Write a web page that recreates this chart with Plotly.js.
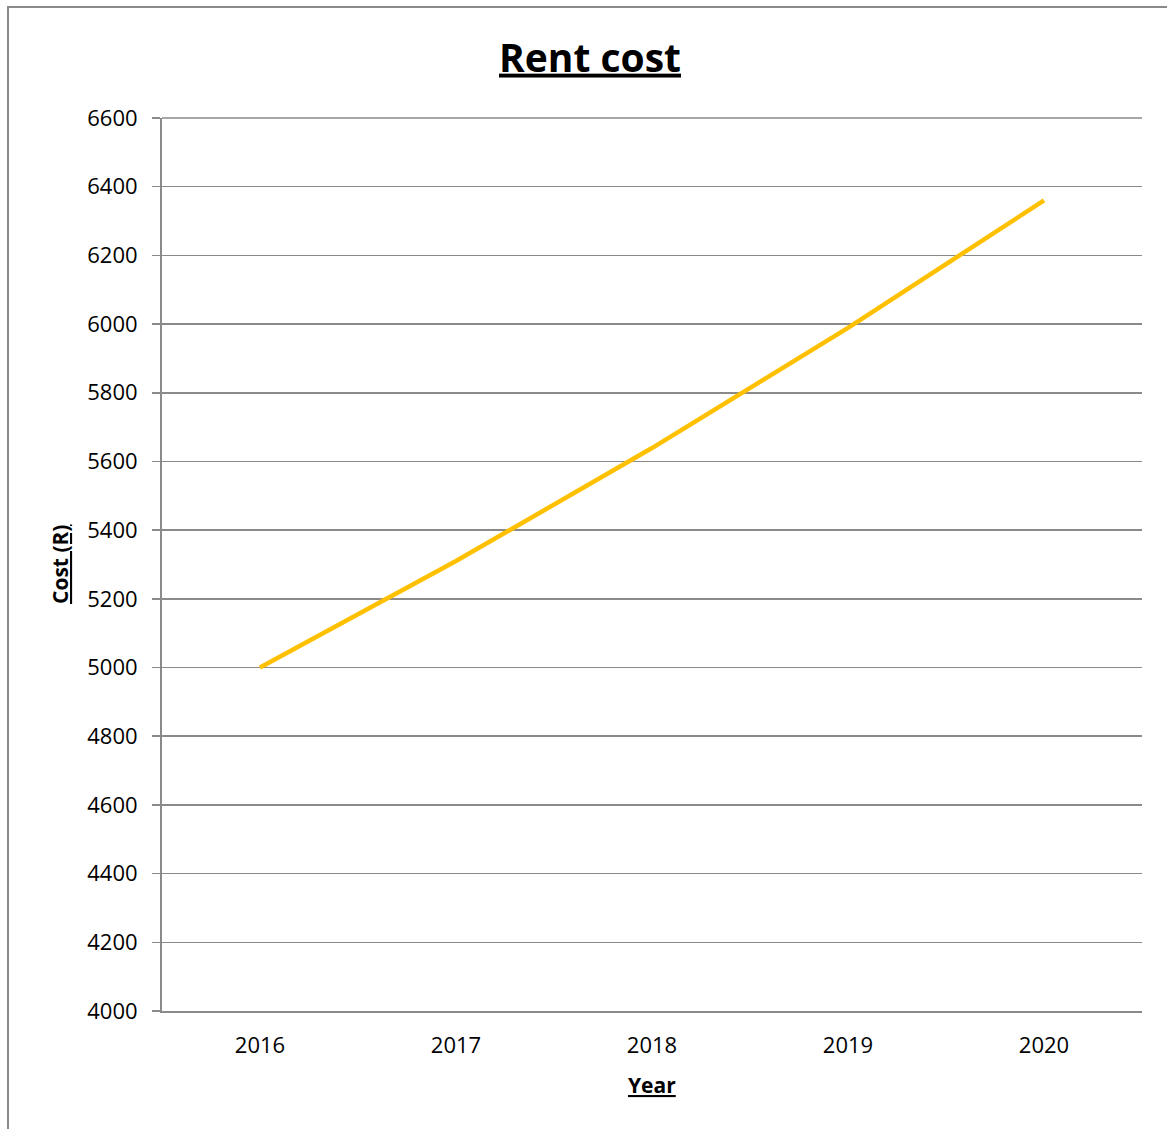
<!DOCTYPE html>
<html>
<head>
<meta charset="utf-8">
<script src="https://cdn.plot.ly/plotly-3.0.1.min.js"></script>
<style>
  html, body { margin: 0; padding: 0; background: #fff; }
  #chart { width: 1167px; height: 1129px; }
</style>
</head>
<body>
<div id="chart"></div>
<script>
const years = ["2016", "2017", "2018", "2019", "2020"];
const rentCost = [5000, 5310, 5639, 5989, 6360];
const yTicks = [4000, 4200, 4400, 4600, 4800, 5000, 5200, 5400, 5600, 5800, 6000, 6200, 6400, 6600];

const fontFam = "'Open Sans', 'Noto Sans', sans-serif";
const gray = "#8a8a8a";

const trace = {
  x: years,
  y: rentCost,
  type: "scatter",
  mode: "lines",
  line: { color: "#FFC000", width: 4.5 },
  hoverinfo: "skip",
  showlegend: false
};

const L = 162, R = 1167 - 1142, T = 118, B = 1129 - 1011;
const pw = 1142 - 162, ph = 1011 - 118;
const px = v => (v - L) / pw;
const py = v => (1011 - v) / ph;

const layout = {
  width: 1167,
  height: 1129,
  margin: { l: L, r: R, t: T, b: B, pad: 0 },
  paper_bgcolor: "#ffffff",
  plot_bgcolor: "#ffffff",
  font: { family: fontFam, color: "#000", size: 22 },
  title: {
    text: "<b>Rent cost</b>",
    font: { family: fontFam, size: 39, color: "#000", lineposition: "under" },
    xref: "container", x: 590 / 1167, xanchor: "center",
    yref: "container", y: 1 - 58 / 1129, yanchor: "middle"
  },
  xaxis: {
    type: "category",
    range: [-0.5, 4.5],
    showgrid: false,
    showline: true,
    linecolor: gray,
    linewidth: 2,
    ticks: "",
    ticklabelstandoff: 14,
    tickfont: { family: fontFam, size: 22, color: "#000" },
    fixedrange: true,
    zeroline: false
  },
  yaxis: {
    range: [4000, 6600],
    tickvals: yTicks,
    ticktext: yTicks.map(String),
    showgrid: true,
    gridcolor: gray,
    gridwidth: 1.6,
    showline: true,
    linecolor: gray,
    linewidth: 2,
    ticks: "outside",
    ticklen: 8,
    tickwidth: 1.6,
    tickcolor: gray,
    ticklabelstandoff: 10,
    tickfont: { family: fontFam, size: 22, color: "#000" },
    zeroline: false,
    fixedrange: true
  },
  annotations: [
    {
      text: "<b>Year</b>",
      xref: "paper", yref: "paper",
      x: px(652), y: py(1085),
      xanchor: "center", yanchor: "middle",
      showarrow: false,
      font: { family: fontFam, size: 21, color: "#000", lineposition: "under" }
    },
    {
      text: "<b>Cost (R)</b>",
      xref: "paper", yref: "paper",
      x: px(60), y: py(564),
      xanchor: "center", yanchor: "middle",
      textangle: -90,
      showarrow: false,
      font: { family: fontFam, size: 21, color: "#000", lineposition: "under" }
    }
  ],
  shapes: [
    {
      type: "rect",
      xref: "paper", yref: "paper",
      x0: px(8), x1: px(1200),
      y0: py(1200), y1: py(7),
      line: { color: gray, width: 2 },
      fillcolor: "rgba(0,0,0,0)",
      layer: "above"
    },
    {
      type: "line",
      xref: "paper", yref: "paper",
      x0: px(153), x1: px(162),
      y0: 0, y1: 0,
      line: { color: gray, width: 2 }
    },
    {
      type: "line",
      xref: "paper", yref: "paper",
      x0: 0, x1: 1,
      y0: 1, y1: 1,
      line: { color: gray, width: 1.6 },
      layer: "below"
    }
  ]
};

Plotly.newPlot("chart", [trace], layout, { displayModeBar: false, staticPlot: true });
</script>
</body>
</html>
